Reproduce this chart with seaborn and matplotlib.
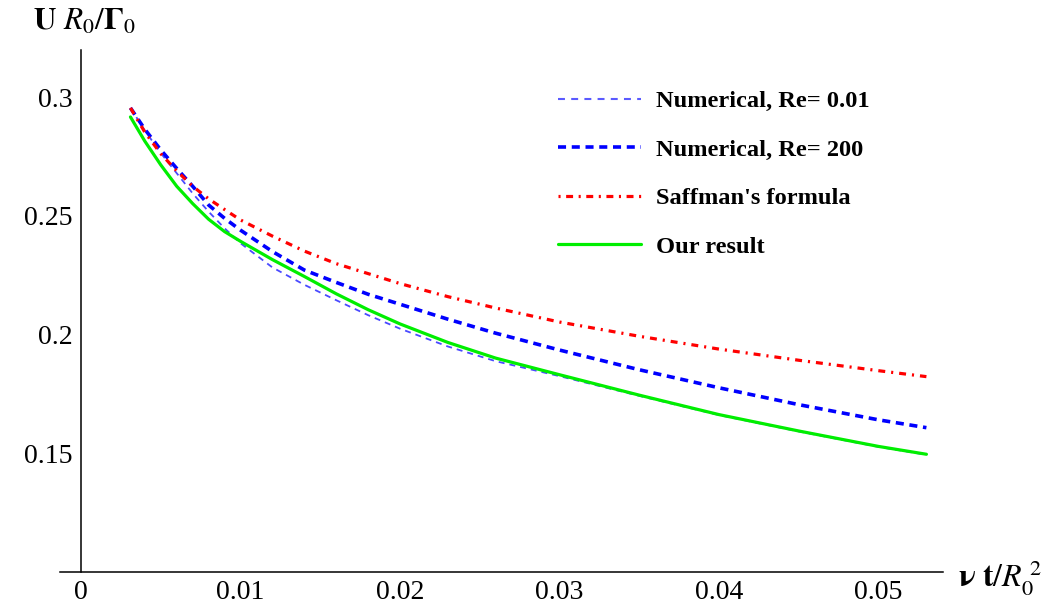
import matplotlib
matplotlib.use("Agg")
import matplotlib.pyplot as plt
import seaborn as sns
import pandas as pd
from matplotlib.lines import Line2D

# ---------------- data ----------------
x_vals = [0.0031, 0.004, 0.005, 0.006, 0.007, 0.008, 0.009, 0.010, 0.012, 0.014,
          0.016, 0.018, 0.020, 0.023, 0.026, 0.030, 0.035, 0.040, 0.045, 0.050, 0.053]

num_re001 = [0.2955, 0.2860, 0.2765, 0.2680, 0.2595, 0.2518, 0.2448, 0.2385, 0.2283, 0.2210,
             0.2145, 0.2082, 0.2025, 0.1950, 0.1888, 0.1825, 0.1742, 0.1661, 0.1592, 0.1527, 0.1494]
num_re200 = [0.2955, 0.2865, 0.2778, 0.2700, 0.2625, 0.2546, 0.2490, 0.2440, 0.2350, 0.2272,
             0.2220, 0.2170, 0.2128, 0.2065, 0.2006, 0.1935, 0.1852, 0.1776, 0.1705, 0.1641, 0.1608]
saffman = [0.2955, 0.2853, 0.2762, 0.2690, 0.2625, 0.2572, 0.2527, 0.2483, 0.2415, 0.2352,
           0.2299, 0.2257, 0.2215, 0.2160, 0.2112, 0.2053, 0.1993, 0.1939, 0.1892, 0.1848, 0.1823]
our_result = [0.2917, 0.2815, 0.2715, 0.2625, 0.2552, 0.2486, 0.2434, 0.2393, 0.2316, 0.2245,
              0.2172, 0.2105, 0.2045, 0.1967, 0.1901, 0.1831, 0.1745, 0.1663, 0.1594, 0.1529, 0.1496]

series_labels = ["Numerical, Re= 0.01", "Numerical, Re= 200", "Saffman's formula", "Our result"]

x_ticks = [0, 0.01, 0.02, 0.03, 0.04, 0.05]
x_tick_labels = ["0", "0.01", "0.02", "0.03", "0.04", "0.05"]
y_ticks = [0.15, 0.2, 0.25, 0.3]
y_tick_labels = ["0.15", "0.2", "0.25", "0.3"]

# ---------------- style ----------------
sns.set_theme(style="white")
plt.rcParams["font.family"] = ["Liberation Serif", "DejaVu Serif"]
plt.rcParams["mathtext.fontset"] = "stix"
plt.rcParams["lines.scale_dashes"] = False
plt.rcParams["text.color"] = "black"

fig = plt.figure(figsize=(10.42, 6.08), dpi=100)
fig.patch.set_facecolor("white")
# axes box: x from px 60 to 943, y from px 50 to 572
ax = fig.add_axes([60 / 1042, 1 - 572 / 608, 883 / 1042, 522 / 608])
ax.set_facecolor("white")

df = pd.DataFrame({
    "x": x_vals,
    series_labels[0]: num_re001,
    series_labels[1]: num_re200,
    series_labels[2]: saffman,
    series_labels[3]: our_result,
})

styles = {
    series_labels[0]: dict(color="#4a4aff", lw=1.3, ls=(0, (4.3, 3.6))),
    series_labels[1]: dict(color="#0000ff", lw=2.6, ls=(0, (5.8, 4.1))),
    series_labels[2]: dict(color="#ff0000", lw=2.3, ls=(0, (5.0, 4.3, 1.5, 4.3))),
    series_labels[3]: dict(color="#00ee00", lw=2.3, ls="-"),
}

for name in series_labels:
    st = styles[name]
    sns.lineplot(data=df, x="x", y=name, ax=ax, color=st["color"], linewidth=st["lw"],
                 linestyle=st["ls"], legend=False, zorder=3)

ax.set_xlim(-0.001317, 0.05404)
ax.set_ylim(0.1, 0.3199)
ax.set_xlabel("")
ax.set_ylabel("")

for s in ["top", "right"]:
    ax.spines[s].set_visible(False)
ax.spines["left"].set_position(("data", 0))
for s in ["left", "bottom"]:
    ax.spines[s].set_color("black")
    ax.spines[s].set_linewidth(1.1)

ax.set_xticks(x_ticks)
ax.set_xticklabels(x_tick_labels)
ax.set_yticks(y_ticks)
ax.set_yticklabels(y_tick_labels)
ax.tick_params(axis="both", direction="in", length=5, width=1, color="black",
               labelcolor="black", labelsize=20, pad=6)
ax.tick_params(axis="x", pad=6)
ax.grid(False)

# axis labels
ax.text(1.017, -0.01, r"$\mathbf{\nu}\ \mathbf{t}/R_0^{\;2}$", transform=ax.transAxes,
        ha="left", va="center", fontsize=23, color="black")
fig.text(33 / 1042, 1 - 22 / 608, r"$\mathbf{U}\ R_0/\mathbf{\Gamma}_{0}$",
         ha="left", va="center", fontsize=22.5, color="black")

# legend
handles = [
    Line2D([], [], color="#5a5aff", lw=1.5, ls=(0, (5.0, 4.5))),
    Line2D([], [], color="#0000ff", lw=2.6, ls=(0, (5.8, 4.1))),
    Line2D([], [], color="#ff0000", lw=2.3, ls=(0, (1.5, 4.0, 5.0, 4.0))),
    Line2D([], [], color="#00ee00", lw=2.3, ls="-"),
]
leg = fig.legend(handles, series_labels, loc="upper left",
                 bbox_to_anchor=(558 / 1042, 1 - 90 / 608), bbox_transform=fig.transFigure,
                 frameon=False, borderpad=0, borderaxespad=0, handlelength=3.4,
                 handletextpad=0.62, labelspacing=1.08, labelcolor="black",
                 prop={"family": "Liberation Serif", "weight": "bold", "size": 17.6})

fig.savefig("out.png", dpi=100, facecolor="white")
